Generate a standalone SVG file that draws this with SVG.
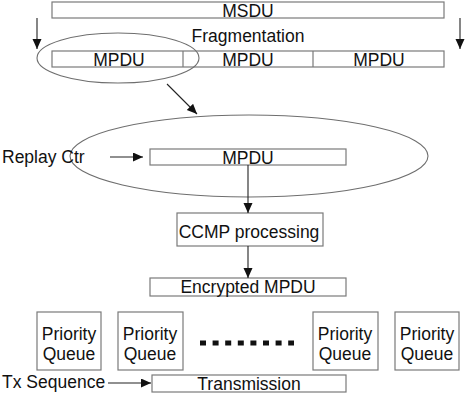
<svg xmlns="http://www.w3.org/2000/svg" width="467" height="412" viewBox="0 0 467 412">
<defs>
<style>
.box{fill:#fff;stroke:#7a7a7a;stroke-width:1.2}
.ell{fill:none;stroke:#6e6e6e;stroke-width:1.1}
.t{font-family:"Liberation Sans",Arial,sans-serif;font-size:17.5px;fill:#111;text-anchor:middle}
.tl{font-family:"Liberation Sans",Arial,sans-serif;font-size:17.5px;fill:#111}
.arr{stroke:#222;stroke-width:1.1;fill:none;marker-end:url(#ah)}
</style>
<marker id="ah" markerWidth="10" markerHeight="10" refX="10" refY="4.5" orient="auto" markerUnits="userSpaceOnUse">
<path d="M0,0 L10,4.5 L0,9 Z" fill="#111"/>
</marker>
</defs>
<rect width="467" height="412" fill="#fff"/>
<g id="msdu"><rect class="box" x="52" y="2" width="392" height="16"/><text class="t" x="248" y="16.5">MSDU</text></g>
<g id="fragmentation"><text class="t" x="248" y="42">Fragmentation</text></g>
<g id="mpdu-row">
<rect class="box" x="52" y="51" width="392" height="16"/>
<line x1="183" y1="51" x2="183" y2="67" stroke="#7a7a7a" stroke-width="1.2"/>
<line x1="313" y1="51" x2="313" y2="67" stroke="#7a7a7a" stroke-width="1.2"/>
<text class="t" x="119" y="65.5">MPDU</text>
<text class="t" x="248" y="65.5">MPDU</text>
<text class="t" x="379" y="65.5">MPDU</text>
</g>
<g id="small-ellipse"><ellipse class="ell" cx="118" cy="58" rx="81" ry="25"/></g>
<g id="big-ellipse"><ellipse class="ell" cx="249" cy="156" rx="179" ry="41"/></g>
<g id="replay-ctr"><text class="tl" x="2" y="163">Replay Ctr</text></g>
<g id="mpdu"><rect class="box" x="150" y="149" width="196" height="16"/><text class="t" x="248" y="163.5">MPDU</text></g>
<g id="ccmp"><rect class="box" x="177" y="213" width="146" height="33"/><text class="t" x="249" y="238">CCMP processing</text></g>
<g id="encrypted"><rect class="box" x="150" y="278" width="196" height="18"/><text class="t" x="248" y="293">Encrypted MPDU</text></g>
<g id="pq1"><rect class="box" x="37" y="312" width="64" height="58"/><text class="t" x="69" y="340">Priority</text><text class="t" x="69" y="360">Queue</text></g>
<g id="pq2"><rect class="box" x="118" y="312" width="65" height="58"/><text class="t" x="150" y="340">Priority</text><text class="t" x="150" y="360">Queue</text></g>
<g id="pq3"><rect class="box" x="313" y="312" width="65" height="58"/><text class="t" x="345" y="340">Priority</text><text class="t" x="345" y="360">Queue</text></g>
<g id="pq4"><rect class="box" x="395" y="312" width="64" height="58"/><text class="t" x="427" y="340">Priority</text><text class="t" x="427" y="360">Queue</text></g>
<g id="dots"><line x1="200" y1="343" x2="294" y2="343" stroke="#111" stroke-width="5" stroke-dasharray="6,6.6"/></g>
<g id="tx-sequence"><text class="tl" x="2" y="388">Tx Sequence</text></g>
<g id="transmission"><rect class="box" x="152" y="375" width="194" height="17"/><text class="t" x="249" y="389.5">Transmission</text></g>
<g id="connectors">
<line class="arr" x1="37" y1="18" x2="37" y2="49"/>
<line class="arr" x1="460" y1="18" x2="460" y2="49"/>
<line class="arr" x1="167" y1="84" x2="197" y2="114"/>
<line class="arr" x1="110" y1="157" x2="143" y2="157"/>
<line class="arr" x1="248" y1="165" x2="248" y2="213"/>
<line class="arr" x1="248" y1="246" x2="248" y2="278"/>
<line class="arr" x1="108" y1="383" x2="151" y2="383"/>
</g>
</svg>
